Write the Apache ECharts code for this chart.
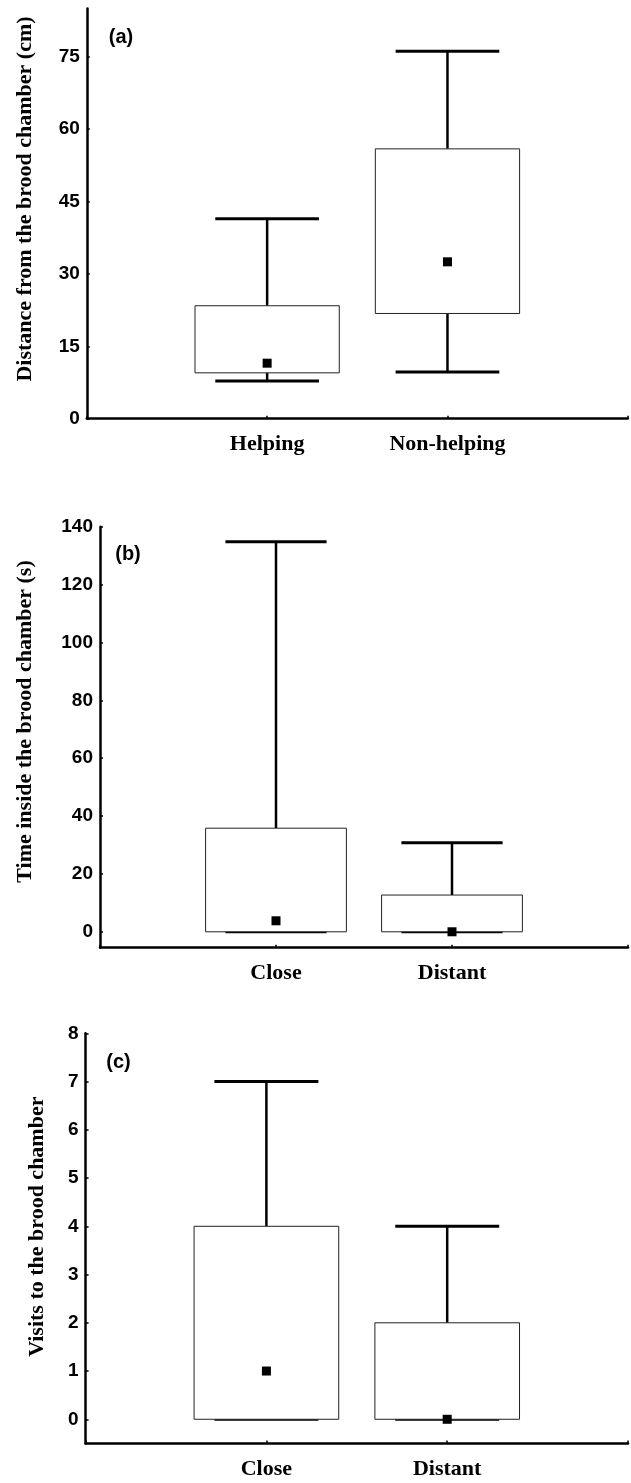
<!DOCTYPE html>
<html>
<head>
<meta charset="utf-8">
<script src="https://cdn.jsdelivr.net/npm/echarts@6/dist/echarts.min.js"></script>
<style>
html,body{margin:0;padding:0;background:#fff;}
#chart{width:631px;height:1483px;}
</style>
</head>
<body>
<div id="chart"></div>
<script>
// ---- Data ----
const catsA = ['Helping', 'Non-helping'];
const minA = [7.8, 9.7];
const q1A = [9.5, 21.8];
const q3A = [23.4, 55.9];
const maxA = [41.4, 76.1];
const medA = [11.5, 32.5];
const ticksA = [0, 15, 30, 45, 60, 75];

const catsB = ['Close', 'Distant'];
const minB = [0, 0];
const q1B = [0, 0];
const q3B = [35.8, 12.7];
const maxB = [134.8, 30.8];
const medB = [3.8, 0];
const ticksB = [0, 20, 40, 60, 80, 100, 120, 140];

const catsC = ['Close', 'Distant'];
const minC = [0, 0];
const q1C = [0, 0];
const q3C = [4, 2];
const maxC = [7, 4];
const medC = [1, 0];
const ticksC = [0, 1, 2, 3, 4, 5, 6, 7, 8];

const titleA = 'Distance from the brood chamber (cm)';
const titleB = 'Time inside the brood chamber (s)';
const titleC = 'Visits to the brood chamber';

// ---- Styles ----
const SERIF = "'Liberation Serif','Times New Roman',serif";
const SANS = "'Liberation Sans',Arial,sans-serif";

function boxRows(mins, q1s, q3s, maxs) {
  return mins.map((m, i) => [i + 1, m, q1s[i], q3s[i], maxs[i]]);
}
function medRows(meds) {
  return meds.map((m, i) => [i + 1, m]);
}

function renderBox(params, api) {
  const x = api.value(0);
  const lo = api.coord([x, api.value(1)]);
  const q1 = api.coord([x, api.value(2)]);
  const q3 = api.coord([x, api.value(3)]);
  const hi = api.coord([x, api.value(4)]);
  const unit = api.size([1, 0])[0];
  const bw = unit * 0.8, cw = unit * 0.575;
  const cx = lo[0];
  const whisk = {stroke: '#000', lineWidth: 2.5};
  const cap = {stroke: '#000', lineWidth: 3};
  return {
    type: 'group',
    children: [
      {type: 'line', shape: {x1: cx, y1: lo[1], x2: cx, y2: q1[1]}, style: whisk},
      {type: 'line', shape: {x1: cx, y1: q3[1], x2: cx, y2: hi[1]}, style: whisk},
      {type: 'line', shape: {x1: cx - cw / 2, y1: lo[1], x2: cx + cw / 2, y2: lo[1]}, style: cap},
      {type: 'line', shape: {x1: cx - cw / 2, y1: hi[1], x2: cx + cw / 2, y2: hi[1]}, style: cap},
      {type: 'rect', shape: {x: cx - bw / 2, y: q3[1], width: bw, height: q1[1] - q3[1]},
        style: {fill: '#fff', stroke: '#222', lineWidth: 1}}
    ]
  };
}

function xAxisFor(idx, cats) {
  return {
    type: 'value', gridIndex: idx, min: 0, max: 3, interval: 1,
    axisLine: {onZero: false, lineStyle: {color: '#000', width: 2.5}},
    axisTick: {inside: true, length: 3, lineStyle: {color: '#000', width: 1.5}},
    splitLine: {show: false},
    axisLabel: {
      margin: 15,
      color: '#000',
      fontFamily: SERIF, fontWeight: 'bold', fontSize: 22,
      formatter: v => cats[v - 1] || ''
    }
  };
}
function yAxisFor(idx, min, max, ticks) {
  return {
    type: 'value', gridIndex: idx, min: min, max: max,
    axisLine: {show: true, lineStyle: {color: '#000', width: 2.5}},
    axisTick: {show: true, inside: true, length: 3, customValues: ticks, lineStyle: {color: '#000', width: 1.5}},
    splitLine: {show: false},
    axisLabel: {
      customValues: ticks,
      margin: 7, color: '#000',
      fontFamily: SANS, fontWeight: 'bold', fontSize: 19
    }
  };
}

const medStyle = {color: '#000', opacity: 1};

const chart = echarts.init(document.getElementById('chart'), null, {renderer: 'canvas'});
const option = {
  animation: false,
  backgroundColor: '#fff',
  grid: [
    {left: 86.8, width: 541, top: 8.4, height: 410.3},
    {left: 100, width: 528, top: 526.7, height: 421},
    {left: 85.6, width: 542.4, top: 1033.3, height: 410.1}
  ],
  xAxis: [xAxisFor(0, catsA), xAxisFor(1, catsB), xAxisFor(2, catsC)],
  yAxis: [
    yAxisFor(0, 0, 85, ticksA),
    yAxisFor(1, -5.5, 140, ticksB),
    yAxisFor(2, -0.5, 8, ticksC)
  ],
  series: [
    {type: 'custom', xAxisIndex: 0, yAxisIndex: 0, renderItem: renderBox, data: boxRows(minA, q1A, q3A, maxA), z: 2},
    {type: 'custom', xAxisIndex: 1, yAxisIndex: 1, renderItem: renderBox, data: boxRows(minB, q1B, q3B, maxB), z: 2},
    {type: 'custom', xAxisIndex: 2, yAxisIndex: 2, renderItem: renderBox, data: boxRows(minC, q1C, q3C, maxC), z: 2},
    {type: 'scatter', xAxisIndex: 0, yAxisIndex: 0, symbol: 'rect', symbolSize: 9, itemStyle: medStyle, data: medRows(medA), z: 3},
    {type: 'scatter', xAxisIndex: 1, yAxisIndex: 1, symbol: 'rect', symbolSize: 9, itemStyle: medStyle, data: medRows(medB), z: 3},
    {type: 'scatter', xAxisIndex: 2, yAxisIndex: 2, symbol: 'rect', symbolSize: 9, itemStyle: medStyle, data: medRows(medC), z: 3}
  ],
  graphic: [
    {type: 'text', x: 25, y: 199, rotation: Math.PI / 2,
      style: {text: titleA, align: 'center', verticalAlign: 'middle', font: "bold 22px " + SERIF, fill: '#000'}},
    {type: 'text', x: 25, y: 721.5, rotation: Math.PI / 2,
      style: {text: titleB, align: 'center', verticalAlign: 'middle', font: "bold 22px " + SERIF, fill: '#000'}},
    {type: 'text', x: 37.7, y: 1226.7, rotation: Math.PI / 2,
      style: {text: titleC, align: 'center', verticalAlign: 'middle', font: "bold 22px " + SERIF, fill: '#000'}},
    {type: 'text', x: 121, y: 37,
      style: {text: '(a)', align: 'center', verticalAlign: 'middle', font: "bold 20px " + SANS, fill: '#000'}},
    {type: 'text', x: 128, y: 554,
      style: {text: '(b)', align: 'center', verticalAlign: 'middle', font: "bold 20px " + SANS, fill: '#000'}},
    {type: 'text', x: 118.5, y: 1062,
      style: {text: '(c)', align: 'center', verticalAlign: 'middle', font: "bold 20px " + SANS, fill: '#000'}}
  ]
};
chart.setOption(option);
</script>
</body>
</html>
